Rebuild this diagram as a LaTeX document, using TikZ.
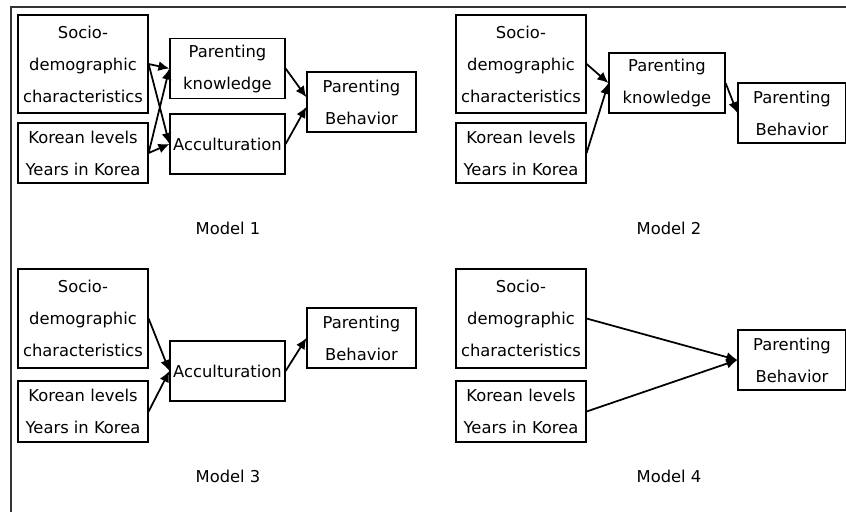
\documentclass[tikz,border=0pt]{standalone}
\usepackage{fontspec}
\setmainfont{DejaVu Sans}
\usepackage{tikz}
\usetikzlibrary{arrows.meta}

\begin{document}
\begin{tikzpicture}[x=0.02cm, y=-0.02cm, >={Latex[length=2.2mm, width=2mm]},
	every node/.style={font=\fontsize{9.3}{18.2}\selectfont},
	var/.style={draw, line width=0.7pt, align=center, inner sep=0pt, minimum height=1.2cm},
	src/.style={var, minimum width=2.6cm},
	link/.style={->, line width=1pt}]
	\useasboundingbox (0,0) rectangle (846,512);
	\fill[white] (0,0) rectangle (846,512);
	\draw[line width=0.8pt, black!80] (11,512) -- (11,7) -- (846,7);
	\begin{scope}
		\node[src, minimum height=1.96cm] (soc1) at (83,64) {Socio-\\demographic\\characteristics};
		\node[src] (kor1) at (83,153) {Korean levels\\Years in Korea};
		\node[var, minimum width=2.3cm] (know1) at (227.5,68.5) {Parenting\\knowledge};
		\node[var, minimum width=2.3cm] (acc1) at (227.5,144) {Acculturation};
		\node[var, minimum width=2.18cm] (beh1) at (361.5,102) {Parenting\\Behavior};
		\draw[link] (soc1.east) -- (know1.west);
		\draw[link] (soc1.east) -- (acc1.west);
		\draw[link] (kor1.east) -- (know1.west);
		\draw[link] (kor1.east) -- (acc1.west);
		\draw[link] (know1.east) -- (beh1.175);
		\draw[link] (acc1.east) -- (beh1.185);
		\node (m1) at (228,228) {Model 1};
	\end{scope}
	\begin{scope}
		\node[src, minimum height=1.96cm] (soc2) at (521,64) {Socio-\\demographic\\characteristics};
		\node[src] (kor2) at (521,153) {Korean levels\\Years in Korea};
		\node[var, minimum width=2.32cm] (know2) at (667,83) {Parenting\\knowledge};
		\node[var, minimum width=2.16cm] (beh2) at (792,113) {Parenting\\Behavior};
		\draw[link] (soc2.east) -- (know2.west);
		\draw[link] (kor2.east) -- (know2.west);
		\draw[link] (know2.east) -- (beh2.west);
		\node (m2) at (669,228) {Model 2};
	\end{scope}
	\begin{scope}
		\node[src, minimum height=1.98cm] (soc3) at (83,318.5) {Socio-\\demographic\\characteristics};
		\node[src, minimum height=1.22cm] (kor3) at (83,411.5) {Korean levels\\Years in Korea};
		\node[var, minimum width=2.3cm] (acc3) at (227.5,371) {Acculturation};
		\node[var, minimum width=2.18cm] (beh3) at (361.5,338) {Parenting\\Behavior};
		\draw[link] (soc3.east) -- (acc3.west);
		\draw[link] (kor3.east) -- (acc3.west);
		\draw[link] (acc3.east) -- (beh3.west);
		\node (m3) at (228,476) {Model 3};
	\end{scope}
	\begin{scope}
		\node[src, minimum height=1.98cm] (soc4) at (521,318.5) {Socio-\\demographic\\characteristics};
		\node[src, minimum height=1.22cm] (kor4) at (521,411.5) {Korean levels\\Years in Korea};
		\node[var, minimum width=2.16cm] (beh4) at (792,360) {Parenting\\Behavior};
		\draw[link] (soc4.east) -- (beh4.west);
		\draw[link] (kor4.east) -- (beh4.west);
		\node (m4) at (669,476) {Model 4};
	\end{scope}
\end{tikzpicture}
\end{document}
